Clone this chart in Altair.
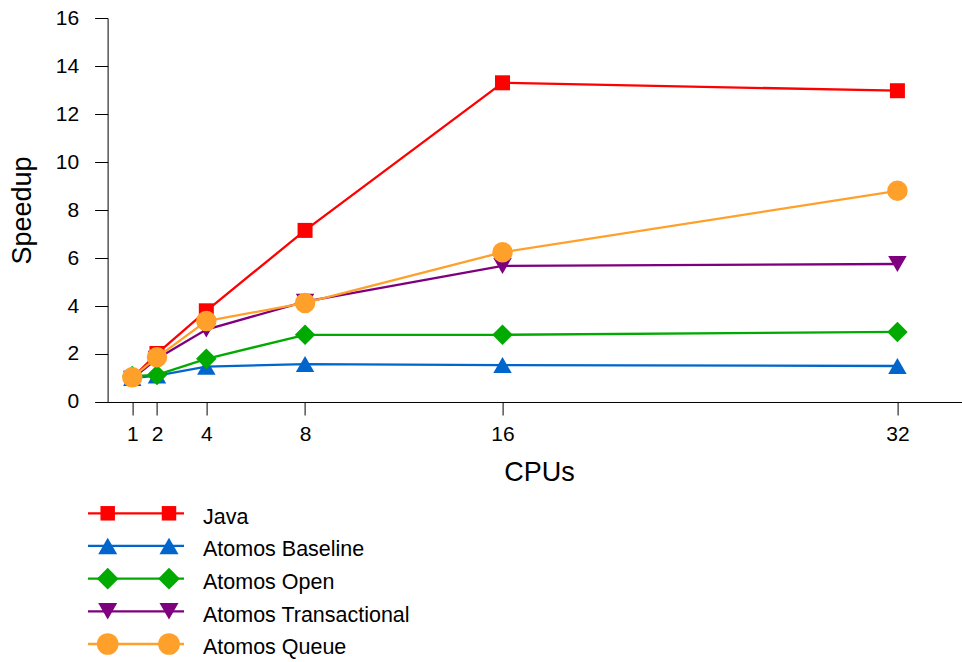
import altair as alt
import pandas as pd

# CPU counts on the x axis
cpus = [1, 2, 4, 8, 16, 32]

# Speedup per configuration
java = [1.0, 2.02, 3.8, 7.15, 13.3, 12.97]
atomos_baseline = [1.0, 1.1, 1.47, 1.58, 1.54, 1.5]
atomos_open = [1.08, 1.13, 1.8, 2.8, 2.8, 2.92]
atomos_transactional = [0.97, 1.8, 3.02, 4.18, 5.67, 5.75]
atomos_queue = [1.03, 1.86, 3.37, 4.13, 6.24, 8.8]

series_names = ["Java", "Atomos Baseline", "Atomos Open",
                "Atomos Transactional", "Atomos Queue"]
series_values = [java, atomos_baseline, atomos_open,
                 atomos_transactional, atomos_queue]
series_colors = ["#ff0000", "#0066cc", "#00aa00", "#7f007f", "#ffa02a"]
series_shapes = ["square", "triangle-up", "diamond", "triangle-down", "circle"]
marker_sizes = [225, 340, 420, 340, 420]
key_sizes = [210, 361, 470, 361, 470]

FONT = "Liberation Sans"
W, H = 854, 384

x_enc = alt.X(
    "CPUs:Q",
    scale=alt.Scale(domain=[0, 34.6], nice=False, zero=False),
    axis=alt.Axis(
        values=cpus, title="CPUs", grid=False, tickSize=13,
        labelPadding=9, labelFontSize=21, titleFontSize=27,
        titleX=431.4, titleY=57.7, titleBaseline="top", titleAlign="center",
    ),
)
y_enc = alt.Y(
    "Speedup:Q",
    scale=alt.Scale(domain=[0, 16], nice=False),
    axis=alt.Axis(
        values=list(range(0, 17, 2)), title="Speedup", grid=False,
        tickSize=13, labelPadding=16, labelFontSize=21, titleFontSize=27,
        titleX=-76.6, titleY=192, titleBaseline="alphabetic",
        titleAlign="center", titleAngle=270,
    ),
)

# key rows: row number 1..5 mapped below the plot area
key_df = pd.DataFrame({"series": series_names})
key_y = alt.Y("row:Q", scale=alt.Scale(domain=[1, 5], range=[495.3, 626],
                                       nice=False, zero=False), axis=None)

plot_layers = []
key_layers = []
for name, vals, color, shape, size, ksize in zip(
        series_names, series_values, series_colors, series_shapes,
        marker_sizes, key_sizes):
    df = pd.DataFrame({"CPUs": cpus, "Speedup": vals, "series": name})
    base = alt.Chart(df).encode(x=x_enc, y=y_enc)
    plot_layers.append(base.mark_line(color=color, strokeWidth=2.3))
    plot_layers.append(base.mark_point(shape=shape, filled=True, size=size,
                                       color=color, opacity=1))

    kbase = (
        alt.Chart(key_df)
        .transform_window(row="row_number()")
        .transform_filter(alt.datum.series == name)
        .encode(y=key_y)
    )
    key_layers.append(kbase.mark_rule(color=color, strokeWidth=2.3).encode(
        x=alt.value(-19.6), x2=alt.value(76.4)))
    for kx in (0.1, 61.4):
        key_layers.append(kbase.mark_point(
            shape=shape, filled=True, size=ksize, color=color, opacity=1
        ).encode(x=alt.value(kx)))
    key_layers.append(kbase.mark_text(
        align="left", baseline="alphabetic", dy=10.5, fontSize=21.5,
        font=FONT, color="black"
    ).encode(x=alt.value(95.4), text="series:N"))

plot = alt.layer(*plot_layers)
key = alt.layer(*key_layers)

chart = (
    alt.layer(plot, key)
    .resolve_scale(y="independent")
    .properties(
        width=W, height=H,
        autosize=alt.AutoSizeParams(type="none"),
        padding={"left": 107.6, "top": 18, "right": 0, "bottom": 260},
        background="white",
    )
    .configure(font=FONT)
    .configure_view(stroke=None)
    .configure_axis(
        domainColor="black", tickColor="black", labelColor="black",
        titleColor="black", domainWidth=1, tickWidth=1,
        titleFontWeight="normal", labelFont=FONT, titleFont=FONT,
    )
)

chart.save("out.html", embed_options={"renderer": "svg", "actions": False})
